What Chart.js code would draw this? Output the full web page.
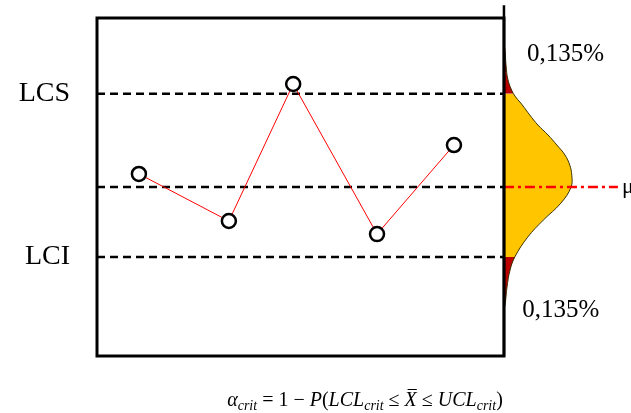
<!DOCTYPE html>
<html>
<head>
<meta charset="utf-8">
<script src="https://cdn.jsdelivr.net/npm/chart.js@4/dist/chart.umd.min.js"></script>
<style>
  html, body { margin: 0; padding: 0; background: #fff; }
  canvas { display: block; }
</style>
</head>
<body>
<canvas id="controlChart" width="631" height="413"></canvas>
<script>
// sample means, in collection order
const sampleX = [1.03, 3.24, 4.82, 6.88, 8.77];
const sampleY = [10.56, 8.54, 14.42, 7.98, 11.8];

// control limits and centre line
const lci = 7;
const mu = 10;
const lcs = 14;
const limitValues = [lci, mu, lcs];
const limitNames = ['LCI', '', 'LCS'];

// the framed plot runs from 0 to 10 on x; the rest is room for the distribution
const frameX = [0, 10];
const xMax = 13.12;

// distribution of the mean, drawn sideways on the right edge of the frame
const bellLevels  = [16.1, 15.88, 15.24, 14.59, 14, 13.52, 13.09, 12.66, 12.23, 11.8, 11.37, 10.94, 10.5, 10, 9.31, 8.58, 7.85, 7, 6.44, 5.71, 5.02, 4.72];
const bellDensity = [0, 0.015, 0.03, 0.06, 0.14, 0.27, 0.38, 0.5, 0.65, 0.78, 0.9, 0.97, 1, 0.99, 0.84, 0.58, 0.35, 0.16, 0.09, 0.045, 0.02, 0];
const bellAxisTop = 17.8;
const muLineEnd = 1.68;
const tailLabel = '0,135%';

const serif = "'Liberation Serif', 'Times New Roman', serif";

const bellPts = bellLevels.map((y, i) => ({ x: bellDensity[i], y: y }));
const upperTail = bellPts.filter(p => p.y >= lcs);
const middle = bellPts.filter(p => p.y <= lcs && p.y >= lci);
const lowerTail = bellPts.filter(p => p.y <= lci);

function bellPiece(points, color) {
  return {
    data: points,
    xAxisID: 'xb',
    indexAxis: 'y',
    fill: 'origin',
    backgroundColor: color,
    borderWidth: 0,
    pointRadius: 0,
    tension: 0.4,
    capBezierPoints: false,
    clip: false
  };
}

function limitLine(v) {
  return {
    data: frameX.map(x => ({ x: x, y: v })),
    borderColor: '#000',
    borderWidth: 2.5,
    borderDash: [8, 5],
    pointRadius: 0,
    fill: false
  };
}

// hidden x scales should not reserve any room for labels
const noPadding = s => { s.paddingLeft = 0; s.paddingRight = 0; s.height = 0; };

// frame, distribution axis and the text around the plot
const framePlugin = {
  id: 'frame',
  afterDatasetsDraw(chart) {
    const { ctx, scales } = chart;
    const x = scales.x, y = scales.y;
    const left = x.getPixelForValue(frameX[0]);
    const right = x.getPixelForValue(frameX[1]);
    const top = y.getPixelForValue(y.max);
    const bottom = y.getPixelForValue(y.min);
    ctx.save();
    ctx.strokeStyle = '#000';
    ctx.lineWidth = 3;
    ctx.strokeRect(left, top, right - left, bottom - top);
    const ax = scales.xb.getPixelForValue(0);
    ctx.lineWidth = 2.5;
    ctx.beginPath();
    ctx.moveTo(ax, y.getPixelForValue(bellAxisTop));
    ctx.lineTo(ax, bottom);
    ctx.stroke();
    ctx.restore();
  },
  afterDraw(chart) {
    const { ctx, scales } = chart;
    const xb = scales.xb, y = scales.y;
    ctx.save();
    ctx.fillStyle = '#000';
    ctx.textAlign = 'left';
    ctx.textBaseline = 'middle';
    ctx.font = '25px ' + serif;
    ctx.fillText(tailLabel, xb.getPixelForValue(0.34), y.getPixelForValue(15.7));
    ctx.fillText(tailLabel, xb.getPixelForValue(0.27), y.getPixelForValue(4.72));
    ctx.font = '22px ' + serif;
    ctx.fillText('μ', xb.getPixelForValue(1.74), y.getPixelForValue(mu));
    drawFormula(ctx, 365, 406);
    ctx.restore();
  }
};

function drawFormula(ctx, cx, baseline) {
  const size = 20, sub = 14;
  const runs = [
    ['α', 'i'], ['crit', 's'], [' = 1 − ', 'r'], ['P', 'i'], ['(', 'r'],
    ['LCL', 'i'], ['crit', 's'], [' ≤ ', 'r'], ['X', 'b'], [' ≤ ', 'r'],
    ['UCL', 'i'], ['crit', 's'], [')', 'r']
  ];
  const fontFor = k => k === 'r' ? size + 'px ' + serif
    : k === 's' ? 'italic ' + sub + 'px ' + serif
    : 'italic ' + size + 'px ' + serif;
  let total = 0;
  const widths = runs.map(([t, k]) => {
    ctx.font = fontFor(k);
    const w = ctx.measureText(t).width;
    total += w;
    return w;
  });
  let x = cx - total / 2;
  ctx.textAlign = 'left';
  ctx.textBaseline = 'alphabetic';
  runs.forEach(([t, k], i) => {
    ctx.font = fontFor(k);
    ctx.fillText(t, x, k === 's' ? baseline + 4 : baseline);
    if (k === 'b') ctx.fillRect(x + 3, baseline - size * 0.85, widths[i] - 3, 1);
    x += widths[i];
  });
}

new Chart(document.getElementById('controlChart'), {
  type: 'line',
  data: {
    datasets: [
      {
        data: sampleX.map((x, i) => ({ x: x, y: sampleY[i] })),
        borderColor: '#ff0000',
        borderWidth: 1,
        pointRadius: 7,
        pointBorderWidth: 2.5,
        pointBorderColor: '#000',
        pointBackgroundColor: '#fff',
        tension: 0,
        fill: false,
        clip: false
      },
      {
        data: [{ x: 0, y: mu }, { x: muLineEnd, y: mu }],
        xAxisID: 'xb',
        borderColor: '#ff0000',
        borderWidth: 2.5,
        borderDash: [10, 4, 3, 4],
        pointRadius: 0,
        fill: false,
        clip: false
      },
      ...limitValues.map(limitLine),
      {
        data: bellPts,
        xAxisID: 'xb',
        indexAxis: 'y',
        fill: false,
        borderColor: '#3a3300',
        borderWidth: 1,
        pointRadius: 0,
        tension: 0.4,
        capBezierPoints: false,
        clip: false
      },
      bellPiece(upperTail, '#bb0000'),
      bellPiece(middle, '#ffc600'),
      bellPiece(lowerTail, '#bb0000')
    ]
  },
  options: {
    responsive: false,
    animation: false,
    events: [],
    layout: { autoPadding: false, padding: { top: 18, right: 0, bottom: 57, left: 0 } },
    plugins: { legend: { display: false }, tooltip: { enabled: false } },
    scales: {
      x: { type: 'linear', min: 0, max: xMax, display: false, ticks: { display: false }, afterFit: noPadding },
      xb: { type: 'linear', min: -6, max: 1.873, display: false, ticks: { display: false }, afterFit: noPadding },
      y: {
        min: 2.75,
        max: 17.25,
        afterFit: s => { s.width = 97; s.paddingTop = 0; s.paddingBottom = 0; },
        afterBuildTicks: s => { s.ticks = limitValues.map(v => ({ value: v })); },
        ticks: {
          callback: v => limitNames[limitValues.indexOf(v)],
          padding: 27,
          color: '#000',
          font: { family: serif, size: 28 }
        },
        grid: { display: false, drawTicks: false },
        border: { display: false }
      }
    }
  },
  plugins: [framePlugin]
});
</script>
</body>
</html>
